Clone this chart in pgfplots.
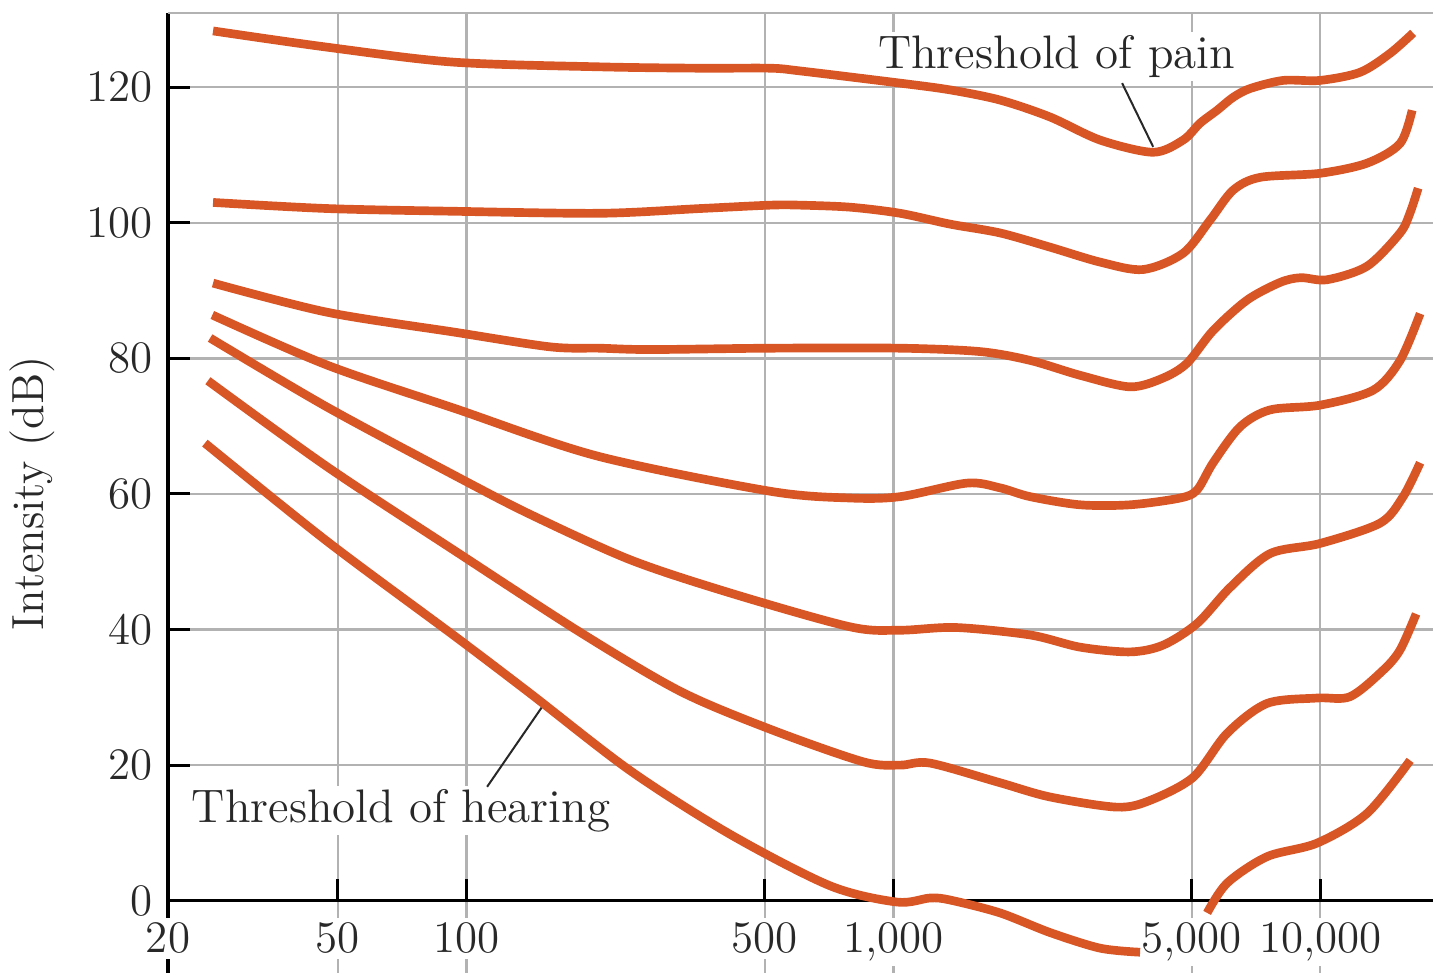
\documentclass[border=0pt]{standalone}
\usepackage{fontspec}
\usepackage{pgfplots}
\pgfplotsset{compat=1.18}
\definecolor{curve}{RGB}{216,86,38}
\definecolor{gridc}{RGB}{178,178,178}
\definecolor{txt}{RGB}{40,40,40}
\tikzset{lbl/.style={txt, fill=white, inner sep=1pt, anchor=base, font=\fontsize{14.1}{17}\selectfont}}

\begin{document}
\fontsize{13.5}{16}\selectfont
\begin{tikzpicture}
\begin{axis}[
  scale only axis,
  width=379.5pt, height=287.9pt,
  xmode=log,
  xmin=20, xmax=18370,
  ymin=-10.66, ymax=130.9,
  axis x line=middle,
  axis y line=left,
  axis line style={-, line width=1pt, black},
  hide obscured x ticks=false,
  hide obscured y ticks=false,
  xtick={20,50,100,500,1000,5000,10000},
  xticklabels={20,50,100,500,{1,000},{5,000},{10,000}},
  ytick={0,20,40,60,80,100,120},
  yticklabels={0,20,40,60,80,100,120},
  extra y ticks={130.9},
  extra y tick labels={},
  extra y tick style={major tick length=0pt, grid=major},
  xminorticks=false, yminorticks=false,
  grid=major,
  major grid style={gridc, line width=0.7pt},
  xtick align=inside, ytick align=inside,
  major tick length=6.5pt,
  tick style={black, line width=0.9pt},
  xticklabel style={txt, fill=white, inner sep=1.5pt, yshift=-4.9pt},
  yticklabel style={txt},
  ylabel={Intensity (dB)},
  ylabel style={txt, at={(axis description cs:-0.1075,0.5)}, anchor=center},
  cl/.style={curve, line width=2.6pt, smooth, no markers},
]
\coordinate (bl) at (rel axis cs:0,0);
\coordinate (tr) at (rel axis cs:1,1);

% labels
\node[lbl] at (axis cs:2412,122.8) {Threshold of pain};
\draw[txt, line width=0.6pt] (axis cs:3434,120.6) -- (axis cs:4060,111.2);
\node[lbl] at (axis cs:70.3,11.6) {Threshold of hearing};
\draw[txt, line width=0.6pt] (axis cs:111.8,16.8) -- (axis cs:151.2,28.8);

% threshold of pain (120 phon)
\addplot[cl] coordinates {(25.5,128.3) (47.2,125.9) (93.0,123.7) (205.6,123.0) (352.6,122.8) (514.4,122.8) (604.5,122.4) (1037,120.6) (1358,119.6) (1778,118.1) (2329,115.6) (3050,112.2) (4060,110.4) (4772,112.2) (5231,114.7) (5734,116.6) (6248,118.5) (6848,119.8) (8184,121.0) (9990,121.0) (12396,122.2) (14576,125.0) (16502,128.0)};
% 100
\addplot[cl] coordinates {(25.5,103.0) (47.2,102.1) (93.0,101.7) (205.6,101.4) (352.6,102.1) (514.4,102.6) (604.5,102.6) (791.9,102.3) (1037,101.4) (1358,99.8) (1778,98.5) (2329,96.4) (3050,94.2) (3846,93.1) (4772,95.5) (5520,100.4) (6248,104.8) (7228,106.7) (9990,107.3) (12878,108.8) (15382,111.7) (16412,116.6)};
% 80
\addplot[cl] coordinates {(25.5,91.1) (47.2,86.8) (93.0,83.9) (157.0,81.7) (205.6,81.5) (269.2,81.3) (514.4,81.5) (1037,81.5) (1596,81.0) (2091,79.7) (2738,77.5) (3585,75.8) (4284,77.1) (4876,79.3) (5611,84.1) (6739,88.6) (8050,91.2) (9000,91.9) (10376,91.6) (12878,93.6) (15382,98.5) (16236,101.5) (16952,105.1)};
% 60
\addplot[cl] coordinates {(25.4,86.4) (47.2,79.0) (94.0,72.6) (202.3,65.6) (514.4,60.4) (791.9,59.4) (1037,59.6) (1488,61.6) (1778,60.9) (2091,59.6) (2738,58.4) (3585,58.4) (4696,59.4) (5147,60.6) (5611,64.6) (6488,69.9) (7628,72.4) (9990,73.1) (13298,75.3) (15382,79.7) (17136,86.6)};
% 40
\addplot[cl] coordinates {(25.1,83.0) (47.2,72.8) (94.0,62.7) (140.9,57.0) (241.7,50.3) (414.5,45.4) (791.9,40.4) (1037,39.9) (1400,40.3) (2091,39.2) (2738,37.4) (3585,36.7) (4284,37.7) (5147,40.9) (6148,46.2) (7628,51.2) (9990,52.7) (13810,55.7) (15634,59.6) (17136,64.6)};
% 20
\addplot[cl] coordinates {(24.8,76.7) (47.2,64.0) (94.0,51.6) (184.6,39.6) (316.6,30.9) (514.4,25.3) (849.0,20.5) (1037,20.0) (1219,20.3) (1778,17.4) (2329,15.3) (3343,13.8) (3993,14.8) (5037,18.2) (6050,24.7) (7506,29.1) (9830,29.9) (11746,30.1) (14036,34.0) (15382,37.0) (16770,42.3)};
% threshold of hearing
\addplot[cl] coordinates {(24.4,67.5) (47.2,53.0) (94.0,39.0) (140.9,30.6) (241.7,19.2) (414.5,9.8) (710.9,2.2) (1020,-0.2) (1219,0.4) (1358,0.1) (1778,-1.8) (2329,-4.7) (3050,-7.0) (3784,-7.6)};
\addplot[cl] coordinates {(5432,-1.8) (6050,2.6) (7506,6.5) (9830,8.5) (12878,12.9) (16236,20.7)};
\end{axis}
\pgfresetboundingbox
\path[use as bounding box] ([xshift=-50.4pt]bl) rectangle ([yshift=3.99pt]tr);
\end{tikzpicture}
\end{document}
